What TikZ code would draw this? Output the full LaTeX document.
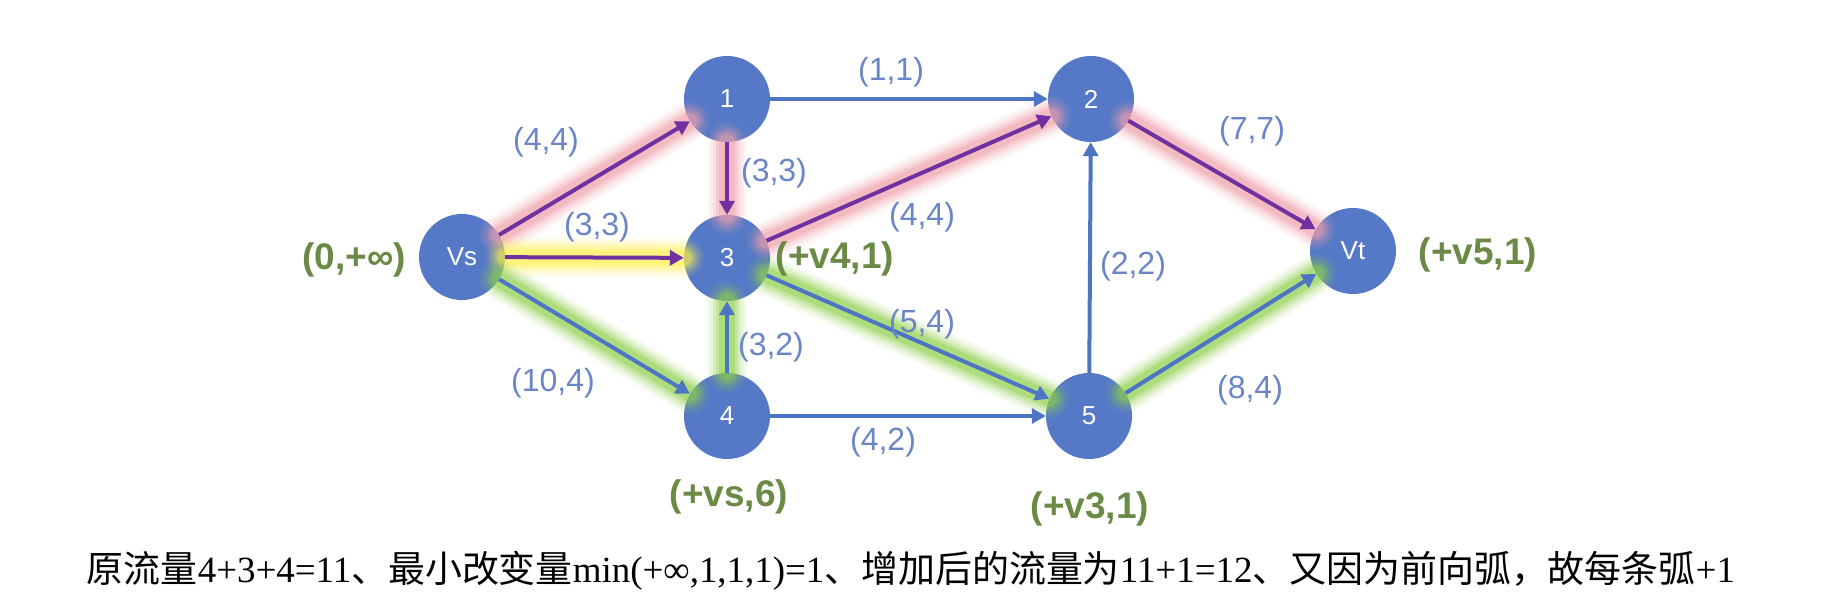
\documentclass[tikz,border=0pt]{standalone}
\usepackage{fontspec}
\setmainfont{Liberation Serif}
\newfontfamily\labfont{Liberation Sans}
\newfontfamily\cjkfont{Noto Sans CJK SC}
\usetikzlibrary{arrows.meta}
\definecolor{nodeblue}{HTML}{5579C6}
\definecolor{edgeblue}{HTML}{4E75C4}
\definecolor{edgepurple}{HTML}{7030A0}
\definecolor{labblue}{HTML}{6A86C6}
\definecolor{labgreen}{HTML}{6A8A45}
\definecolor{glowpink}{HTML}{F0A0AC}
\definecolor{glowyellow}{HTML}{FFF04A}
\definecolor{glowgreen}{HTML}{8ED04A}
\newcommand\glowline[3]{%
  \draw[draw=#1, line cap=round, line width=40pt, opacity=.08] (#2) -- (#3);
  \draw[draw=#1, line cap=round, line width=34pt, opacity=.12] (#2) -- (#3);
  \draw[draw=#1, line cap=round, line width=28pt, opacity=.18] (#2) -- (#3);
  \draw[draw=#1, line cap=round, line width=22pt, opacity=.28] (#2) -- (#3);
  \draw[draw=#1, line cap=round, line width=16pt, opacity=.4] (#2) -- (#3);
}
\begin{document}
\begin{tikzpicture}[x=1pt,y=-1pt,
  vert/.style={circle, fill=nodeblue, minimum size=86pt, inner sep=0pt, text=white,
    font=\labfont\fontsize{26}{30}\selectfont},
  blueedge/.style={draw=edgeblue, line width=4pt, -{Triangle[length=14pt,width=15pt]}},
  purpleedge/.style={draw=edgepurple, line width=4pt, -{Triangle[length=14pt,width=15pt]}},
  elab/.style={text=labblue, inner sep=0pt, font=\labfont\fontsize{32}{36}\selectfont},
  glab/.style={text=labgreen, inner sep=0pt, font=\labfont\bfseries\fontsize{37}{40}\selectfont},
]
\useasboundingbox (0,0) rectangle (1846,608);
\fill[white] (0,0) rectangle (1846,608);

% nodes
\node[vert] (vs) at (462,257) {Vs};
\node[vert] (n1) at (727,99) {1};
\node[vert] (n2) at (1091,99) {2};
\node[vert] (n3) at (727,258) {3};
\node[vert] (n4) at (727,416) {4};
\node[vert] (n5) at (1089,416) {5};
\node[vert] (vt) at (1353,251) {Vt};

% glows
\glowline{glowpink}{vs}{n1}
\glowline{glowpink}{n1}{n3}
\glowline{glowpink}{n3}{n2}
\glowline{glowpink}{n2}{vt}
\glowline{glowyellow}{vs}{n3}
\glowline{glowgreen}{vs}{n4}
\glowline{glowgreen}{n4}{n3}
\glowline{glowgreen}{n3}{n5}
\glowline{glowgreen}{n5}{vt}

% edges
\draw[purpleedge] (vs) -- (n1);
\draw[blueedge] (n1) -- (n2);
\draw[purpleedge] (n1) -- (n3);
\draw[purpleedge] (vs) -- (n3);
\draw[purpleedge] (n3) -- (n2);
\draw[purpleedge] (n2) -- (vt);
\draw[blueedge] (vs) -- (n4);
\draw[blueedge] (n4) -- (n3);
\draw[blueedge] (n3) -- (n5);
\draw[blueedge] (n4) -- (n5);
\draw[blueedge] (n5) -- (n2);
\draw[blueedge] (n5) -- (vt);

% edge labels
\node[elab] (l1) at (546,142) {(4,4)};
\node[elab] (l2) at (774,173) {(3,3)};
\node[elab] (l3) at (597,227) {(3,3)};
\node[elab] (l4) at (891,72) {(1,1)};
\node[elab] (l5) at (922,217) {(4,4)};
\node[elab] (l6) at (1252,131) {(7,7)};
\node[elab] (l7) at (1133,266) {(2,2)};
\node[elab] (l8) at (922,324) {(5,4)};
\node[elab] (l9) at (771,347) {(3,2)};
\node[elab] (l10) at (553,383) {(10,4)};
\node[elab] (l11) at (883,442) {(4,2)};
\node[elab] (l12) at (1250,390) {(8,4)};

% green labels
\node[glab] (g1) at (354,260) {(0,+∞)};
\node[glab] (g2) at (835,259) {(+v4,1)};
\node[glab] (g3) at (1478,255) {(+v5,1)};
\node[glab] (g4) at (729,497) {(+vs,6)};
\node[glab] (g5) at (1090,509) {(+v3,1)};

% bottom text
\node[inner sep=0pt, text=black] (cap) at (911,571) {\resizebox{1648pt}{!}{\fontsize{34}{40}\selectfont
{\cjkfont 原流量}4+3+4=11{\cjkfont 、最小改变量}min(+∞,1,1,1)=1{\cjkfont 、增加后的流量为}11+1=12{\cjkfont 、又因为前向弧，故每条弧}+1}};
\end{tikzpicture}
\end{document}
